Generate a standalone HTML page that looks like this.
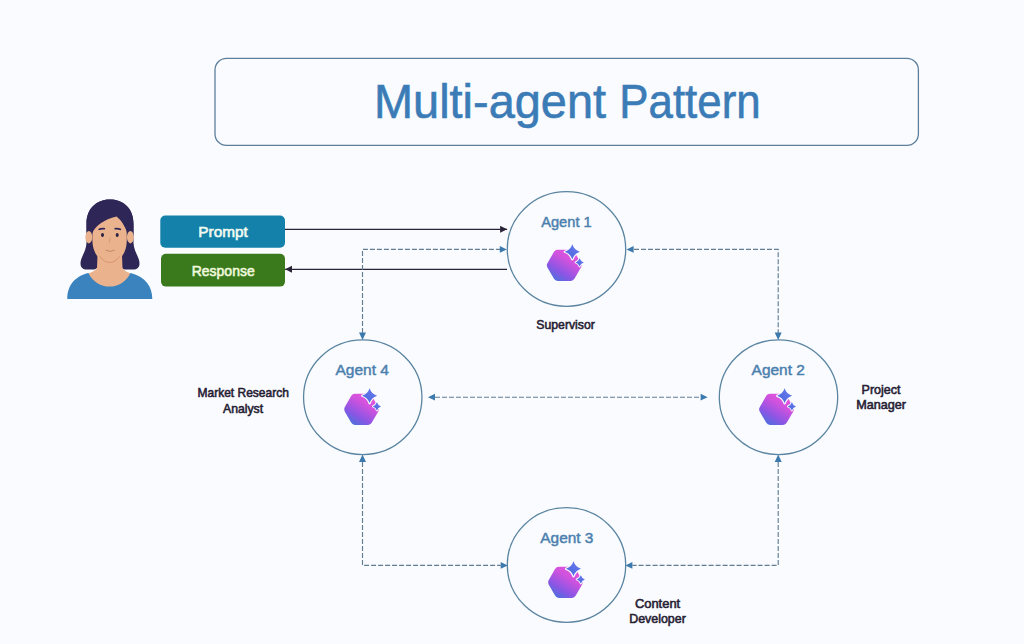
<!DOCTYPE html>
<html>
<head>
<meta charset="utf-8">
<style>
html,body{margin:0;padding:0;background:#f9fbfe;width:1024px;height:644px;overflow:hidden;}
svg{display:block;position:absolute;left:0;top:0;}
text{font-family:"Liberation Sans", sans-serif;}
</style>
</head>
<body>
<svg width="1024" height="644" viewBox="0 0 1024 644">
<defs>
  <linearGradient id="hg" x1="0.85" y1="0" x2="0.15" y2="1">
    <stop offset="0" stop-color="#f056da"/>
    <stop offset="0.35" stop-color="#d052de"/>
    <stop offset="0.7" stop-color="#8a56e4"/>
    <stop offset="1" stop-color="#4274dc"/>
  </linearGradient>
  <linearGradient id="sg" x1="1" y1="0" x2="0" y2="1">
    <stop offset="0" stop-color="#6a7cee"/>
    <stop offset="1" stop-color="#4a64dc"/>
  </linearGradient>
  <g id="icon">
    <path d="M-16.79,2.10Q-18.00,0.00 -16.79,-2.10L-10.21,-13.50Q-9.00,-15.60 -6.57,-15.60L6.57,-15.60Q9.00,-15.60 10.21,-13.50L16.79,-2.10Q18.00,0.00 16.79,2.10L10.21,13.50Q9.00,15.60 6.57,15.60L-6.57,15.60Q-9.00,15.60 -10.21,13.50Z" fill="url(#hg)"/>
    <path d="M8.10,-21.00 Q9.90,-15.30 15.60,-13.50 Q9.90,-11.70 8.10,-6.00 Q6.30,-11.70 0.60,-13.50 Q6.30,-15.30 8.10,-21.00 Z" fill="#f9fbfe" stroke="#f9fbfe" stroke-width="2.2" stroke-linejoin="round"/>
    <path d="M15.40,-7.00 Q16.38,-3.88 19.50,-2.90 Q16.38,-1.92 15.40,1.20 Q14.42,-1.92 11.30,-2.90 Q14.42,-3.88 15.40,-7.00 Z" fill="#f9fbfe" stroke="#f9fbfe" stroke-width="1.8" stroke-linejoin="round"/>
    <path d="M8.10,-21.00 Q9.90,-15.30 15.60,-13.50 Q9.90,-11.70 8.10,-6.00 Q6.30,-11.70 0.60,-13.50 Q6.30,-15.30 8.10,-21.00 Z" fill="url(#sg)"/>
    <path d="M15.40,-7.00 Q16.38,-3.88 19.50,-2.90 Q16.38,-1.92 15.40,1.20 Q14.42,-1.92 11.30,-2.90 Q14.42,-3.88 15.40,-7.00 Z" fill="url(#sg)"/>
  </g>
  <marker id="ab" markerWidth="8" markerHeight="8" refX="7" refY="3.5" orient="auto" markerUnits="userSpaceOnUse">
    <path d="M0,0 L7,3.5 L0,7 Z" fill="#3c79ad"/>
  </marker>
  <marker id="ad" markerWidth="8" markerHeight="8" refX="7" refY="3.5" orient="auto" markerUnits="userSpaceOnUse">
    <path d="M0,0 L7,3.5 L0,7 Z" fill="#2a2338"/>
  </marker>
</defs>

<!-- Title box -->
<rect x="215" y="58.4" width="703.4" height="87" rx="11.5" ry="11.5" fill="none" stroke="#5e7f9c" stroke-width="1.3"/>
<g font-size="47.5" fill="#3b7cb7" stroke="#3b7cb7" stroke-width="0.6">
<text x="374" y="118.4" textLength="232" lengthAdjust="spacingAndGlyphs">Multi-agent</text>
<text x="619.3" y="118.4" textLength="141.4" lengthAdjust="spacingAndGlyphs">Pattern</text>
</g>

<!-- Avatar -->
<g>
  <path d="M110,199.5 C122,199.5 133.5,207 133.5,224 L133.5,243 C134,252 139.5,257 139.5,263.5 C139.5,267.5 137,269.5 133,269.5 L126,269.5 C122,269.5 120.5,267 120.5,262 L120.5,250 L98.5,250 L98.5,262 C98.5,267 97,269.5 93,269.5 L87,269.5 C83,269.5 80.5,267.5 80.5,263.5 C80.5,257 86,252 86.5,243 L86.5,224 C86.5,207 98,199.5 110,199.5 Z" fill="#2e2656"/>
  <path d="M97.5,255 L122,255 L122.5,268 C125,271.5 128,272.5 131.5,273.5 L131.5,292 L87.5,292 L87.5,273.5 C91,272.5 94.5,271.5 97,268 Z" fill="#eab28d"/>
  <path d="M92.4,214 L92.4,240 C92.4,254 100,262.2 109.7,262.2 C119.5,262.2 126.8,254 126.8,240 L126.8,214 Z" fill="#eab28d"/>
  <path d="M100,256.5 C103,260.5 106,262.4 109.7,262.4 C113.5,262.4 116.5,260.5 119.5,256.5" stroke="#d8946f" stroke-width="1" fill="none"/>
  <path d="M86.5,224 L86.5,236 L91.5,236 L92.4,233 C95,226 104,219.5 116.5,216.5 C121,220 125,226 126.8,232 L127,236 L133.5,236 L133.5,224 C133.5,207 122,199.5 110,199.5 C98,199.5 86.5,207 86.5,224 Z" fill="#2e2656"/>
  <ellipse cx="88.8" cy="237.2" rx="3.4" ry="6.2" fill="#eab28d"/>
  <ellipse cx="130.4" cy="237.2" rx="3.4" ry="6.2" fill="#eab28d"/>
  <path d="M67.3,299 C67.3,287 73,277 88.3,273 C93,282 101,286.6 109.5,286.6 C118,286.6 126,282 130.5,273 C146,277 152.3,287 152.3,299 Z" fill="#3a83be"/>
  <ellipse cx="102.5" cy="235" rx="1.5" ry="1.9" fill="#2a2240"/>
  <ellipse cx="117.2" cy="235" rx="1.5" ry="1.9" fill="#2a2240"/>
  <path d="M98.5,229.6 Q101.5,228.2 105,228.8" stroke="#2e2656" stroke-width="1.6" fill="none"/>
  <path d="M114.5,228.8 Q118,228.2 121,229.6" stroke="#2e2656" stroke-width="1.6" fill="none"/>
  <path d="M110,237.5 L109.2,243" stroke="#d89d7a" stroke-width="1" fill="none"/>
  <path d="M105.5,250 Q110,253 114.7,250" stroke="#c98567" stroke-width="1" fill="none"/>
</g>

<!-- Prompt / Response -->
<rect x="160.3" y="215.5" width="124.7" height="32.3" rx="5" fill="#1381a9"/>
<text x="198.3" y="236.9" font-size="15" font-weight="normal" fill="#f2fbf0" stroke="#f2fbf0" stroke-width="0.6" textLength="49.5" lengthAdjust="spacingAndGlyphs">Prompt</text>
<rect x="161" y="253.8" width="124" height="32.8" rx="5" fill="#3a7a1d"/>
<text x="191.7" y="276" font-size="15" font-weight="normal" fill="#eef8dc" stroke="#eef8dc" stroke-width="0.6" textLength="63" lengthAdjust="spacingAndGlyphs">Response</text>

<line x1="285" y1="229.3" x2="507.1" y2="229.3" stroke="#2a2338" stroke-width="1.2" marker-end="url(#ad)"/>
<line x1="507" y1="269.3" x2="285.1" y2="269.3" stroke="#2a2338" stroke-width="1.2" marker-end="url(#ad)"/>

<!-- Circles -->
<g fill="none" stroke="#5a84a0" stroke-width="1.3">
  <ellipse cx="566.5" cy="249" rx="59.2" ry="57.4"/>
  <ellipse cx="362.75" cy="397.25" rx="59.2" ry="57.4"/>
  <ellipse cx="778.5" cy="397.25" rx="59.2" ry="57.4"/>
  <ellipse cx="566.5" cy="565" rx="59.2" ry="57.4"/>
</g>

<!-- Dashed connectors -->
<g fill="none" stroke="#627d92" stroke-width="1.15" stroke-dasharray="5 2">
  <path d="M362.5,333 L362.5,249.4 L500,249.4"/>
  <path d="M634,249.4 L778.2,249.4 L778.2,333"/>
  <path d="M435,397.2 L700.6,397.2"/>
  <path d="M362.5,462 L362.5,565.4 L500.7,565.4"/>
  <path d="M778.2,462 L778.2,565.4 L632.4,565.4"/>
</g>
<g fill="#3c79ad">
  <path d="M506.8,249.4 L499.8,246 L499.8,252.8Z"/>
  <path d="M362.5,340 L359,332.5 L366,332.5Z"/>
  <path d="M626.5,249.4 L633.6,246 L633.6,252.8Z"/>
  <path d="M778.2,340 L774.7,332.5 L781.7,332.5Z"/>
  <path d="M428,397.2 L435,393.8 L435,400.6Z"/>
  <path d="M707.6,397.2 L700.6,393.8 L700.6,400.6Z"/>
  <path d="M362.5,454.5 L359,462 L366,462Z"/>
  <path d="M778.2,454.5 L774.7,462 L781.7,462Z"/>
  <path d="M507.7,565.4 L500.7,562 L500.7,568.8Z"/>
  <path d="M625.4,565.4 L632.4,562 L632.4,568.8Z"/>
</g>

<!-- Agent labels -->
<g font-size="14.8" font-weight="normal" fill="#4b7fae" stroke="#4b7fae" stroke-width="0.45">
  <text x="541.2" y="227" textLength="50.5" lengthAdjust="spacingAndGlyphs">Agent 1</text>
  <text x="335.5" y="374.8" textLength="53.4" lengthAdjust="spacingAndGlyphs">Agent 4</text>
  <text x="751.6" y="374.7" textLength="53.2" lengthAdjust="spacingAndGlyphs">Agent 2</text>
  <text x="540.3" y="543.3" textLength="53.1" lengthAdjust="spacingAndGlyphs">Agent 3</text>
</g>

<!-- Icons -->
<use href="#icon" x="564.2" y="265.3"/>
<use href="#icon" x="361.5" y="409.3"/>
<use href="#icon" x="776.5" y="409.35"/>
<use href="#icon" x="565.4" y="582.35"/>

<!-- Role labels -->
<g font-size="12.4" font-weight="normal" fill="#262033" stroke="#262033" stroke-width="0.55">
  <text x="536.3" y="329.4" textLength="58.5" lengthAdjust="spacingAndGlyphs">Supervisor</text>
  <text x="197.6" y="397.4" textLength="91.2" lengthAdjust="spacingAndGlyphs">Market Research</text>
  <text x="223" y="412.5" textLength="40.1" lengthAdjust="spacingAndGlyphs">Analyst</text>
  <text x="861.6" y="393.9" textLength="38.9" lengthAdjust="spacingAndGlyphs">Project</text>
  <text x="856.2" y="408.9" textLength="49.8" lengthAdjust="spacingAndGlyphs">Manager</text>
  <text x="634.9" y="607.6" textLength="45.3" lengthAdjust="spacingAndGlyphs">Content</text>
  <text x="629.2" y="622.9" textLength="56.6" lengthAdjust="spacingAndGlyphs">Developer</text>
</g>
</svg>
</body>
</html>
